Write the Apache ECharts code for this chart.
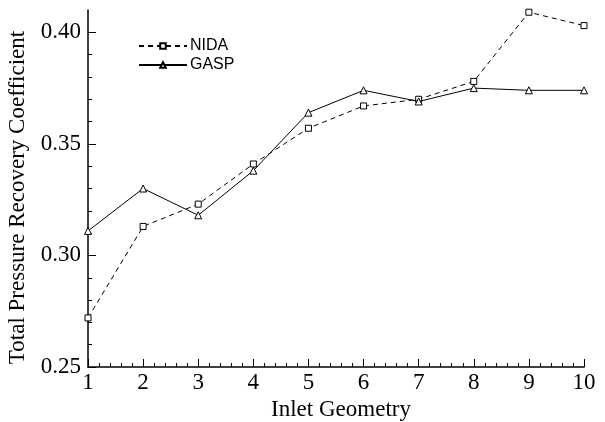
<!DOCTYPE html>
<html>
<head>
<meta charset="utf-8">
<script src="https://cdn.jsdelivr.net/npm/echarts@6/dist/echarts.min.js"></script>
<style>
  html, body { margin: 0; padding: 0; background: #fff; }
  #chart { width: 605px; height: 422px; }
</style>
</head>
<body>
<div id="chart"></div>
<script>
// Inlet geometry index on the x axis
const geometries = [1, 2, 3, 4, 5, 6, 7, 8, 9, 10];
// Total pressure recovery coefficient per geometry
const nidaValues = [0.272, 0.313, 0.323, 0.341, 0.357, 0.367, 0.370, 0.378, 0.409, 0.403];
const gaspValues = [0.311, 0.330, 0.318, 0.338, 0.364, 0.374, 0.369, 0.375, 0.374, 0.374];
// Labelled ticks on the y axis
const yMajorTicks = [0.25, 0.30, 0.35, 0.40];
const xTicks = [1, 2, 3, 4, 5, 6, 7, 8, 9, 10];

const yMin = 0.25, yMax = 0.41;
const yMinorTicks = [];
for (let i = 26; i <= 40; i++) {
  const v = i / 100;
  if (i % 5 !== 0) yMinorTicks.push(v);
}

const serif = 'Liberation Serif';
const sans = 'Liberation Sans';
const labelSize = 23;

const chart = echarts.init(document.getElementById('chart'), null, { renderer: 'canvas' });

chart.setOption({
  animation: false,
  backgroundColor: '#fff',
  grid: { left: 88, right: 21, top: 10, bottom: 55, containLabel: false, outerBoundsMode: 'none' },
  legend: {
    orient: 'vertical',
    left: 133,
    top: 33,
    itemWidth: 48,
    itemHeight: 7,
    itemGap: 3,
    textStyle: { fontFamily: sans, fontSize: 16, color: '#000', padding: [0, 0, 0, -2] },
    data: ['NIDA', 'GASP']
  },
  xAxis: {
    type: 'value',
    min: 1,
    max: 10,
    interval: 1,
    name: 'Inlet Geometry',
    nameLocation: 'middle',
    nameGap: 30,
    nameTextStyle: { fontFamily: serif, fontSize: labelSize, color: '#000', padding: [0, 0, 0, 10] },
    axisLine: { show: true, onZero: false, lineStyle: { color: '#000', width: 1.5 } },
    axisTick: { show: true, inside: true, length: 8, lineStyle: { color: '#000', width: 1 }, customValues: xTicks },
    minorTick: { show: true, splitNumber: 5, length: 4, lineStyle: { color: '#000', width: 1 } },
    axisLabel: { fontFamily: serif, fontSize: labelSize, color: '#000', margin: 4, customValues: xTicks },
    splitLine: { show: false }
  },
  yAxis: [
    {
      type: 'value',
      min: yMin,
      max: yMax,
      name: 'Total Pressure Recovery Coefficient',
      nameLocation: 'middle',
      nameGap: 58,
      nameTextStyle: { fontFamily: serif, fontSize: labelSize, color: '#000', padding: [0, 18, 0, 0] },
      axisLine: { show: true, onZero: false, lineStyle: { color: '#000', width: 1.5 } },
      axisTick: { show: true, inside: true, length: 8, lineStyle: { color: '#000', width: 1 }, customValues: yMajorTicks },
      axisLabel: {
        fontFamily: serif, fontSize: labelSize, color: '#000', margin: 7,
        customValues: yMajorTicks,
        formatter: v => v.toFixed(2)
      },
      splitLine: { show: false }
    },
    {
      type: 'value',
      min: yMin,
      max: yMax,
      position: 'left',
      offset: 0,
      axisLine: { show: false },
      axisTick: { show: true, inside: true, length: 4, lineStyle: { color: '#000', width: 1 }, customValues: yMinorTicks },
      axisLabel: { show: false, customValues: yMinorTicks },
      splitLine: { show: false }
    }
  ],
  series: [
    {
      name: 'NIDA',
      type: 'line',
      yAxisIndex: 0,
      data: geometries.map((g, i) => [g, nidaValues[i]]),
      symbol: 'rect',
      symbolSize: 6,
      lineStyle: { color: '#000', width: 1, type: [5, 4] },
      itemStyle: { color: '#fff', borderColor: '#000', borderWidth: 1 },
      z: 3
    },
    {
      name: 'GASP',
      type: 'line',
      yAxisIndex: 0,
      data: geometries.map((g, i) => [g, gaspValues[i]]),
      symbol: 'triangle',
      symbolSize: 7,
      lineStyle: { color: '#000', width: 1 },
      itemStyle: { color: '#fff', borderColor: '#000', borderWidth: 1 },
      z: 4
    }
  ]
});
</script>
</body>
</html>
